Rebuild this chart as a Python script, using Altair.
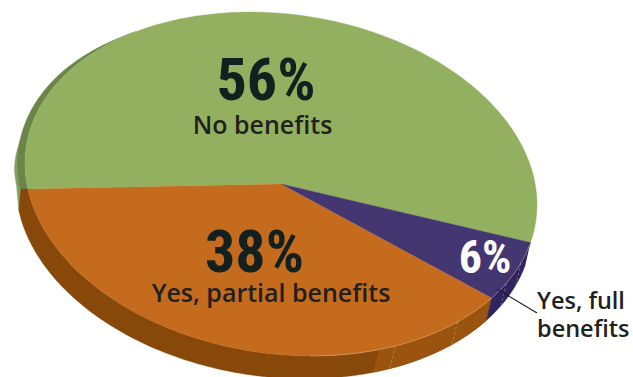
import math
import altair as alt
import numpy as np
import pandas as pd

# Pie shares, in drawing order starting from the right-hand edge and going clockwise
categories = ["Yes, full benefits", "Yes, partial benefits", "No benefits"]
shares = [6, 38, 56]
top_colors = ["#433671", "#c46b1e", "#92b05f"]
wall_colors = ["#2f2362", "#87480a", "#6b8549"]

# Tilted-disc geometry of the pie
CX, CY = 281.0, 184.0
A, B = 257.5, 169.7
TILT = math.radians(8.2)
START = 7.6
DROP_X, DROP_Y = -7.0, 21.5
BASE_SCALE = 1.008


def rim(t_deg, lower=False, grow=0.0):
    t = math.radians(t_deg)
    u, v = A * math.cos(t), B * math.sin(t)
    x = (u * math.cos(TILT) - v * math.sin(TILT)) * (1 + grow)
    y = (u * math.sin(TILT) + v * math.cos(TILT)) * (1 + grow)
    if lower:
        return CX + DROP_X + BASE_SCALE * x, CY + DROP_Y + BASE_SCALE * y
    return CX + x, CY + y


def sweep(a, b, step=1.0):
    n = max(2, int(abs(b - a) / step))
    return [a + (b - a) * i / n for i in range(n + 1)]


def shape(points):
    return pd.DataFrame({"x": [p[0] for p in points], "y": [p[1] for p in points], "i": range(len(points))})


X = alt.X("x:Q", scale=alt.Scale(domain=[0, 633], nice=False, zero=False), axis=None)
Y = alt.Y("y:Q", scale=alt.Scale(domain=[377, 0], nice=False, zero=False), axis=None)


def filled(points, color):
    return alt.Chart(shape(points)).mark_line(
        filled=True, fill=color, stroke=color, strokeWidth=0.4
    ).encode(x=X, y=Y, order="i:Q")


def outline(points, color, width, opacity=1.0, dash=None):
    style = {"strokeDash": dash} if dash else {}
    return alt.Chart(shape(points)).mark_line(
        color=color, strokeWidth=width, opacity=opacity, **style
    ).encode(x=X, y=Y, order="i:Q")


# Slice boundaries in parametric degrees around the disc
edges = [START]
for s in shares:
    edges.append(edges[-1] + s * 3.6)

layers = []


def wall(a, b, color):
    ts = sweep(a, b)
    return filled([rim(t) for t in ts] + [rim(t, True) for t in reversed(ts)], color)


# Pale sliver on the far left, behind the green wall
sliver_ts = sweep(167, 182)
sliver_grow = np.interp(sliver_ts, [167, 172, 176, 182], [0.042, 0.042, 0.038, 0.027])
layers.append(filled(
    [rim(edges[2], True)] + [rim(t, grow=g) for t, g in zip(sliver_ts, sliver_grow)] + [rim(166, grow=0.02)],
    "#84a061",
))

# Green wall: a band hugging the upper-left edge, thinning out towards the top
band_ts = sweep(166, 230)
band_grow = np.interp(band_ts, [166, 183, 196, 208, 220, 230], [0.03, 0.028, 0.024, 0.018, 0.008, 0.0])
layers.append(filled(
    [rim(t, grow=g) for t, g in zip(band_ts, band_grow)] + [rim(t) for t in sweep(230, 166)],
    wall_colors[2],
))

# Brown wall, with its lighter stretch towards the purple slice
orange_ts = sweep(edges[1], edges[2])
orange_wall = [rim(t) for t in orange_ts] + [(rim(edges[2])[0] - 7, rim(edges[2])[1])] + [
    rim(t, True) for t in reversed(orange_ts)
]
layers.append(filled(orange_wall, wall_colors[1]))
layers.append(wall(edges[1], 62, "#9b5410"))
layers.append(wall(edges[0], edges[1], wall_colors[0]))

# Top faces
for k in [2, 1, 0]:
    ts = sweep(edges[k], edges[k + 1])
    layers.append(filled([(CX, CY)] + [rim(t) for t in ts], top_colors[k]))

# Pale highlight along the front rim and the seams on the wall
front = sweep(edges[0] + 1, 78)
layers.append(outline([rim(t) for t in front], "#e8d2b0", 0.6, 0.6))
for seam in [15, 23, 41, 58]:
    layers.append(outline([rim(seam), rim(seam, True)], "#e0c8a8", 0.7, 0.5, [3, 2]))

# Leader line to the outside label
layers.append(outline([(497, 289), (537, 313)], "#231f20", 1.2))

# Percentages in a condensed face
big_x = [266, 254.5, 485]
big_y = [100, 272, 273]
big_text = [f"{shares[2]}%", f"{shares[1]}%", f"{shares[0]}%"]
big_color = ["#12211f", "#12211f", "#ffffff"]
big_size = [60, 60, 46]
for x, y, t, c, s in zip(big_x, big_y, big_text, big_color, big_size):
    layers.append(
        alt.Chart(pd.DataFrame({"x": [x], "y": [y], "t": [t]})).mark_text(
            font="Roboto Condensed", fontWeight="bold", fontSize=s,
            align="center", baseline="alphabetic", color=c,
        ).encode(x=X, y=Y, text="t:N")
    )

# Category names
small_x = [262.5, 271, 537, 537]
small_y = [134, 302, 309, 337]
small_text = ["No benefits", "Yes, partial benefits", "Yes, full", "benefits"]
small_align = ["center", "center", "left", "left"]
small_size = [25, 25, 23.5, 23.5]
for x, y, t, a, s in zip(small_x, small_y, small_text, small_align, small_size):
    layers.append(
        alt.Chart(pd.DataFrame({"x": [x], "y": [y], "t": [t]})).mark_text(
            font="Open Sans", fontWeight=600, fontSize=s,
            align=a, baseline="alphabetic", color="#231f20",
        ).encode(x=X, y=Y, text="t:N")
    )

chart = alt.layer(*layers).properties(
    width=633, height=377, padding=0, autosize=alt.AutoSizeParams(type="none"),
    background="#ffffff",
).configure_view(stroke=None)

chart.save("out.html", embed_options={"renderer": "svg", "actions": False})
